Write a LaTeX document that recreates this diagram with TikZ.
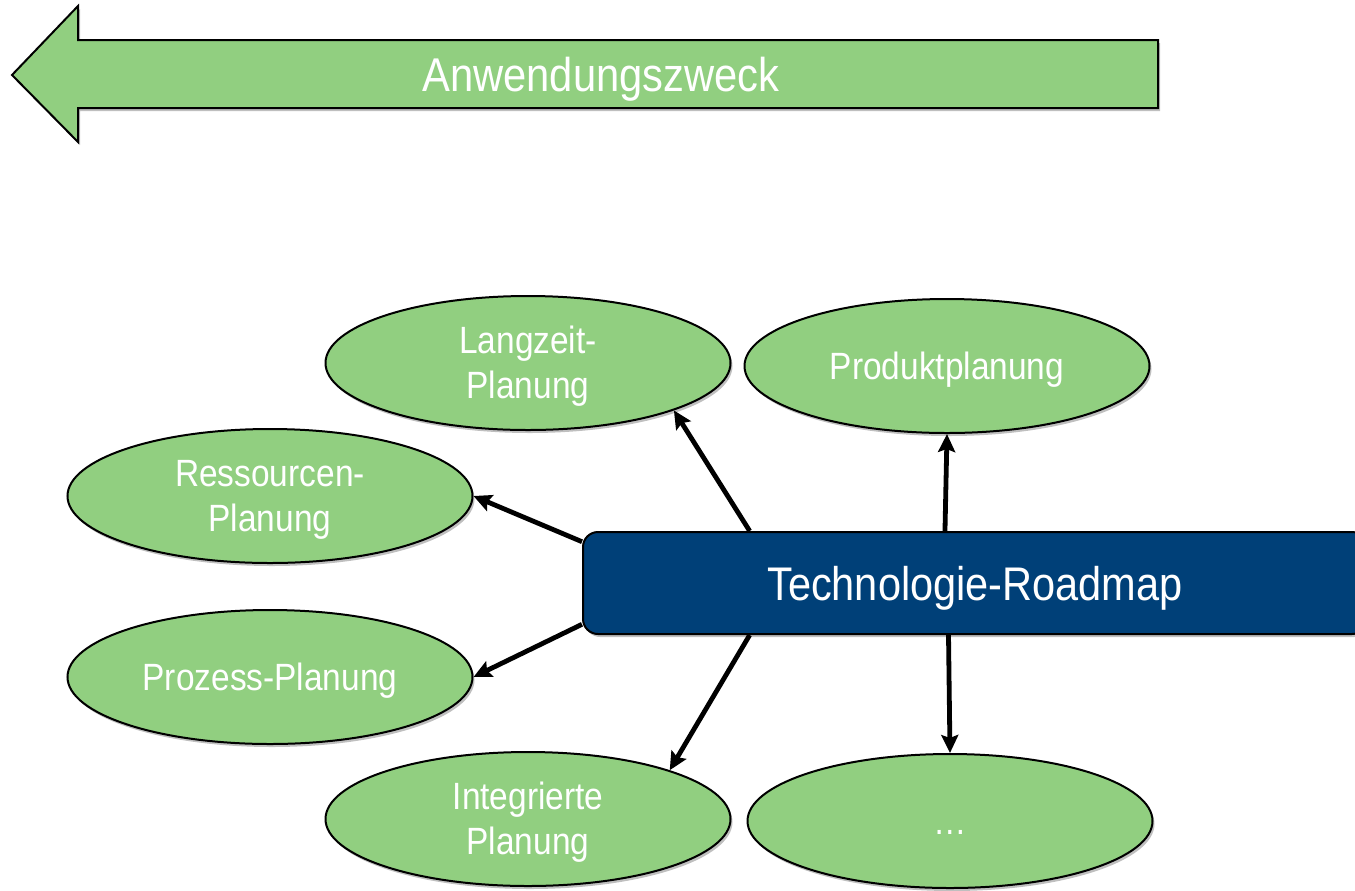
\documentclass[tikz,border=0pt]{standalone}
\usepackage{fontspec}
\setmainfont{Liberation Sans}[FakeStretch=0.88]
\usetikzlibrary{arrows.meta,shapes.geometric,shadows}
\definecolor{leaf}{RGB}{145,207,128}
\definecolor{navy}{RGB}{0,64,120}
\newcommand{\bubtext}[1]{\raisebox{-2pt}[\height][\depth]{\begin{tabular}{@{}c@{}}#1\end{tabular}}}
\begin{document}
\begin{tikzpicture}[x=0.5pt,y=-0.5pt,
  softshadow/.style={drop shadow={shadow xshift=1pt,shadow yshift=-1.5pt,opacity=0.25,fill=black}},
  bubble/.style={ellipse, draw=black, line width=1pt, fill=leaf, minimum width=202.5pt,
    minimum height=67pt, inner sep=0pt, text=white,
    font=\fontsize{19}{22.5}\selectfont, softshadow},
  link/.style={line width=2.4pt, -{Stealth[length=9pt,width=8.5pt,inset=1.5pt]}}]
\useasboundingbox (0,0) rectangle (1355,890);
\clip (0,0) rectangle (1355,890);
% big arrow
\draw[fill=leaf, line width=1pt, softshadow] (12,75) -- (78,6) -- (78,40) -- (1158,40)
  -- (1158,108) -- (78,108) -- (78,142) -- cycle;
\node[anchor=base, text=white, font=\fontsize{23.7}{28}\selectfont] (aw) at (601,91) {Anwendungszweck};
% ellipses
\node[bubble] (lang) at (528,363) {\bubtext{Langzeit-\\Planung}};
\node[bubble] (prod) at (947,366) {\bubtext{Produktplanung}};
\node[bubble] (ress) at (270,496) {\bubtext{Ressourcen-\\Planung}};
\node[bubble] (proz) at (270,677) {\bubtext{Prozess-Planung}};
\node[bubble] (integ) at (528,819) {\bubtext{Integrierte\\Planung}};
\node[bubble] (more) at (950,821) {\bubtext{…}};
% roadmap box
\node[draw=black, line width=1pt, fill=navy, rounded corners=7.5pt, minimum width=392pt,
  minimum height=51pt, text=white, text depth=0pt, font=\fontsize{23.6}{28}\selectfont, softshadow] (rm) at (975,583) {Technologie-Roadmap};
% connectors
\draw[link] (rm.167.7) -- (lang.-18);
\draw[link] (rm.120.5) -- (prod.south);
\draw[link] (rm.174.75) -- (ress.east);
\draw[link] (rm.186.8) -- (proz.east);
\draw[link] (rm.193.5) -- (integ.19.4);
\draw[link] (rm.243) -- (more.north);
\end{tikzpicture}
\end{document}
